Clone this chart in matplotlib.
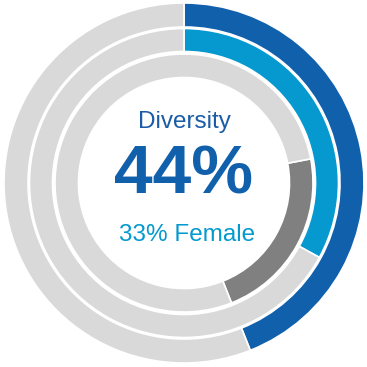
import matplotlib
matplotlib.use("Agg")
import matplotlib.pyplot as plt

# ring values in percent, clockwise from 12 o'clock
outer_vals = [44, 56]          # diversity
middle_vals = [33, 67]         # female
inner_start = 22               # inner ring segment starts here (percent)
inner_vals = [22, 78]          # inner ring segment, rest

title = "Diversity"
big_label = "44%"
sub_label = "33% Female"

dark_blue = "#1160AC"
light_blue = "#0599CF"
light_gray = "#D9D9D9"
mid_gray = "#808080"

plt.rcParams['font.family'] = ['Liberation Sans', 'DejaVu Sans']

fig = plt.figure(figsize=(3.67, 3.67), dpi=100)
ax = fig.add_axes([0, 0, 1, 1])
cx, cy = 184, 184
edge = dict(edgecolor="white", linewidth=1.2)

ax.pie(outer_vals, radius=180, center=(cx, cy), startangle=90, counterclock=False,
       colors=[dark_blue, light_gray], wedgeprops=dict(width=24, **edge))
ax.pie(middle_vals, radius=154.5, center=(cx, cy), startangle=90, counterclock=False,
       colors=[light_blue, light_gray], wedgeprops=dict(width=23, **edge))
ax.pie(inner_vals, radius=129, center=(cx, cy), startangle=90 - inner_start * 3.6,
       counterclock=False, colors=[mid_gray, light_gray], wedgeprops=dict(width=23.5, **edge))

ax.text(cx, 367 - 122, title, ha="center", va="center", fontsize=17.5, color="#1A5CA6")
ax.text(cx, 367 - 176, big_label, ha="center", va="center", fontsize=50,
        fontweight="bold", color=dark_blue)
ax.text(cx + 3, 367 - 235, sub_label, ha="center", va="center", fontsize=17.5, color=light_blue)

ax.set_xlim(0, 367)
ax.set_ylim(0, 367)
ax.set_aspect("equal")
ax.axis("off")
fig.savefig("out.png", dpi=100, facecolor="white")
